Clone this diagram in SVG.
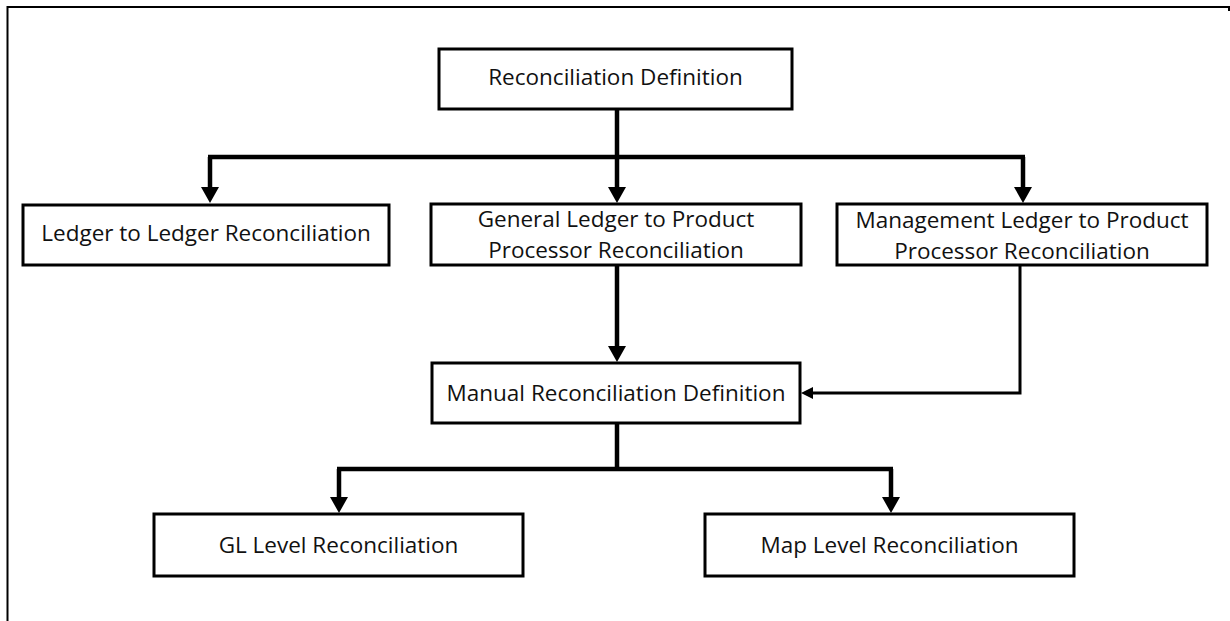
<svg xmlns="http://www.w3.org/2000/svg" width="1230" height="621" viewBox="0 0 1230 621">
<style>
.box{fill:#fff;stroke:#000;stroke-width:3}
.t{font-family:"Open Sans","Liberation Sans",sans-serif;font-size:22.5px;fill:#111;text-anchor:middle}
.c{fill:none;stroke:#000;stroke-width:4.5;stroke-linejoin:miter}
.c2{fill:none;stroke:#000;stroke-width:3}
</style>
<defs>
<marker id="ah" markerUnits="userSpaceOnUse" markerWidth="18" markerHeight="18" refX="1" refY="9" orient="auto" overflow="visible">
<path d="M0,0 L16,9 L0,18 z" fill="#000"/>
</marker>
<marker id="ah2" markerUnits="userSpaceOnUse" markerWidth="13" markerHeight="12" refX="1" refY="6" orient="auto" overflow="visible">
<path d="M0,0 L12,6 L0,12 z" fill="#000"/>
</marker>
</defs>
<rect width="1230" height="621" fill="#fff"/>
<path d="M7.5,621 V7 H1229 V11" fill="none" stroke="#000" stroke-width="2"/>
<g id="connectors">
<path class="c" d="M617,109 V157"/>
<path class="c" d="M208,157 H1025"/>
<path class="c" d="M210,157 V188" marker-end="url(#ah)"/>
<path class="c" d="M617,157 V188" marker-end="url(#ah)"/>
<path class="c" d="M1023,157 V188" marker-end="url(#ah)"/>
<path class="c" d="M617,265 V347" marker-end="url(#ah)"/>
<path class="c2" d="M1020,265 V393 H812" marker-end="url(#ah2)"/>
<path class="c" d="M617,423 V469"/>
<path class="c" d="M337,469 H893"/>
<path class="c" d="M339,469 V498" marker-end="url(#ah)"/>
<path class="c" d="M891,469 V498" marker-end="url(#ah)"/>
</g>
<g id="n-recon-def"><rect class="box" x="439" y="49" width="353" height="60"/><text class="t" x="615.5" y="85">Reconciliation Definition</text></g>
<g id="n-ledger"><rect class="box" x="23" y="205" width="366" height="60"/><text class="t" x="206" y="241">Ledger to Ledger Reconciliation</text></g>
<g id="n-glpp"><rect class="box" x="431" y="204" width="370" height="61"/><text class="t" x="616" y="227">General Ledger to Product</text><text class="t" x="616" y="258">Processor Reconciliation</text></g>
<g id="n-mlpp"><rect class="box" x="837" y="204" width="370" height="61"/><text class="t" x="1022" y="228">Management Ledger to Product</text><text class="t" x="1022" y="259">Processor Reconciliation</text></g>
<g id="n-manual"><rect class="box" x="432" y="363" width="368" height="60"/><text class="t" x="616" y="401">Manual Reconciliation Definition</text></g>
<g id="n-gl"><rect class="box" x="154" y="514" width="369" height="62"/><text class="t" x="338.5" y="553">GL Level Reconciliation</text></g>
<g id="n-map"><rect class="box" x="705" y="514" width="369" height="62"/><text class="t" x="889.5" y="553">Map Level Reconciliation</text></g>
</svg>
